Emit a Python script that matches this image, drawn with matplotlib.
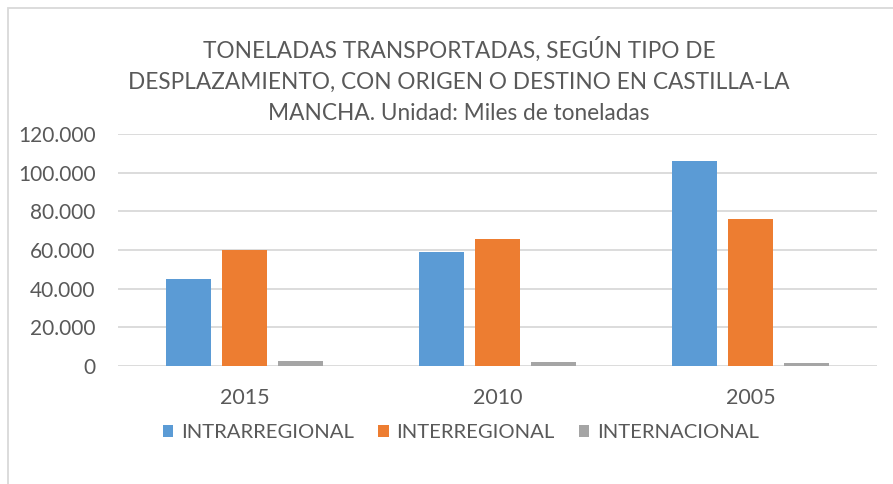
import matplotlib.pyplot as plt
import numpy as np
from matplotlib.patches import Rectangle
from matplotlib.ticker import FuncFormatter

plt.rcParams['font.family'] = ['Lato', 'DejaVu Sans']

years = ['2015', '2010', '2005']
intrarregional = [45000, 59100, 106000]
interregional = [60000, 65500, 75900]
internacional = [2600, 1900, 1600]
series_names = ['INTRARREGIONAL', 'INTERREGIONAL', 'INTERNACIONAL']
colors = ['#5B9BD5', '#ED7D31', '#A5A5A5']
text_color = '#595959'

fig = plt.figure(figsize=(8.93, 4.84), dpi=100)
ax = fig.add_axes([118 / 893, 1 - 366 / 484, (877 - 118) / 893, (366 - 134) / 484])

x = np.arange(len(years))
width = 0.178
step = 0.222
for i, (vals, name, c) in enumerate(zip([intrarregional, interregional, internacional], series_names, colors)):
    ax.bar(x + (i - 1) * step, vals, width, color=c, label=name, zorder=3)

ax.set_xlim(-0.5, 2.5)
ax.set_ylim(0, 120000)
ax.set_yticks(np.arange(0, 120001, 20000))
ax.yaxis.set_major_formatter(FuncFormatter(lambda v, p: f'{int(v):,}'.replace(',', '.')))
ax.set_xticks(x)
ax.set_xticklabels(years)
ax.grid(axis='y', color='#D9D9D9', linewidth=1.3, zorder=0)
for s in ax.spines.values():
    s.set_visible(False)
ax.tick_params(length=0, labelsize=15, colors=text_color)
ax.tick_params(axis='y', pad=16)
ax.tick_params(axis='x', pad=16, labelsize=15.5)

fig.text(459 / 893, 1 - 80 / 484, 'TONELADAS TRANSPORTADAS, SEGÚN TIPO DE\nDESPLAZAMIENTO, CON ORIGEN O DESTINO EN CASTILLA-LA\nMANCHA. Unidad: Miles de toneladas',
         ha='center', va='center', fontsize=16.3, color=text_color, linespacing=1.6)

leg = fig.legend(loc='center', bbox_to_anchor=(461 / 893, 1 - 433 / 484), ncol=3, frameon=False,
                 fontsize=14.6, handlelength=0.5, handleheight=0.55, handletextpad=0.38, columnspacing=1.2)
for t in leg.get_texts():
    t.set_color(text_color)

fig.patches.append(Rectangle((8 / 893, -0.1), 1.2, 1 - 8 / 484 + 0.1, transform=fig.transFigure,
                             fill=False, edgecolor='#D9D9D9', linewidth=1.3))

fig.savefig('out.png', dpi=100)
